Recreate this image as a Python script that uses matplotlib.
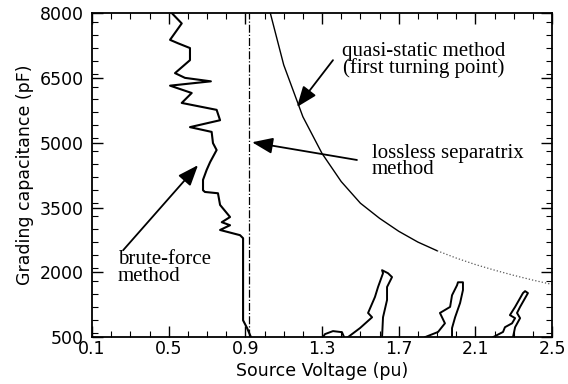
import numpy as np
import matplotlib
matplotlib.use('Agg')
import matplotlib.pyplot as plt
from matplotlib.ticker import MultipleLocator

# brute-force boundary (source voltage in pu, capacitance in pF)
bf_v = [0.516, 0.568, 0.507, 0.549, 0.611, 0.611, 0.533, 0.585, 0.72, 0.507,
        0.620, 0.568, 0.750, 0.768, 0.611, 0.724, 0.731, 0.750, 0.716, 0.698,
        0.679, 0.679, 0.689, 0.757, 0.768, 0.820, 0.777, 0.820, 0.768, 0.872,
        0.888, 0.888, 0.909, 0.929]
bf_c = [8000, 7760, 7380, 7300, 7190, 6910, 6610, 6500, 6420, 6320,
        6150, 5920, 5760, 5520, 5360, 5250, 4990, 4830, 4550, 4370,
        4140, 3900, 3860, 3830, 3560, 3280, 3160, 3090, 2980, 2860,
        2790, 890, 710, 500]

# lossless separatrix method
sep_v = 0.92

# quasi-static method (first turning point)
qs_v = [1.03, 1.1, 1.2, 1.3, 1.4, 1.5, 1.6, 1.7, 1.8, 1.9]
qs_c = [8000, 6800, 5600, 4750, 4100, 3600, 3250, 2950, 2700, 2500]
qs_tail_v = [1.9, 2.0, 2.1, 2.2, 2.3, 2.4, 2.5]
qs_tail_c = [2500, 2330, 2180, 2050, 1930, 1820, 1720]

# stability region outlines near the bottom
bump_v = [1.305, 1.315, 1.357, 1.404, 1.415]
bump_c = [500, 570, 640, 615, 500]
reg1_v = [1.435, 1.498, 1.561, 1.540, 1.576, 1.592, 1.618, 1.613, 1.644, 1.665,
          1.639, 1.639, 1.618, 1.613]
reg1_c = [500, 710, 960, 1060, 1430, 1660, 1980, 2050, 1980, 1890,
          1660, 1360, 960, 500]
reg2_v = [1.837, 1.905, 1.941, 1.915, 1.968, 1.978, 2.004, 2.009, 2.035, 2.035,
          2.020, 1.994, 1.978, 1.978]
reg2_c = [500, 620, 820, 1060, 1200, 1470, 1700, 1770, 1770, 1590,
          1290, 960, 710, 500]
reg3_v = [2.192, 2.244, 2.254, 2.291, 2.307, 2.280, 2.307, 2.348, 2.359, 2.374,
          2.333, 2.317, 2.333, 2.307, 2.296]
reg3_c = [500, 620, 730, 820, 940, 1010, 1200, 1520, 1565, 1520,
          1200, 1060, 940, 730, 500]

fig = plt.figure(figsize=(5.68, 3.84), dpi=100)
ax = fig.add_axes([0.162, 0.122, 0.810, 0.844])

ax.plot(bf_v, bf_c, 'k', lw=1.5)
ax.axvline(sep_v, color='k', ls='-.', lw=0.9)
ax.plot(qs_v, qs_c, 'k', lw=1.0)
ax.plot(qs_tail_v, qs_tail_c, color='0.35', ls=':', lw=0.9)
for v, c in [(bump_v, bump_c), (reg1_v, reg1_c), (reg2_v, reg2_c), (reg3_v, reg3_c)]:
    ax.plot(v, c, 'k', lw=1.4)

ax.set_xlim(0.1, 2.5)
ax.set_ylim(500, 8000)
ax.xaxis.set_minor_locator(MultipleLocator(0.1))
ax.yaxis.set_minor_locator(MultipleLocator(300))
ax.set_xticks([0.1, 0.5, 0.9, 1.3, 1.7, 2.1, 2.5])
ax.set_xticklabels(['0.1', '0.5', '0.9', '1.3', '1.7', '2.1', '2.5'])
ax.set_yticks([500, 2000, 3500, 5000, 6500, 8000])
ax.tick_params(which='both', direction='in', top=True, right=True, labelsize=12.5)
ax.tick_params(which='major', length=8, width=1)
ax.tick_params(which='minor', length=4, width=0.8)
ax.tick_params(axis='x', pad=2)
ax.tick_params(axis='y', pad=6)
for s in ax.spines.values():
    s.set_linewidth(1.3)

ax.set_xlabel('Source Voltage (pu)', fontsize=12.5, labelpad=3)
ax.set_ylabel('Grading capacitance (pF)', fontsize=12.5, labelpad=4)

serif = dict(family='Liberation Serif', fontsize=15)
arrow = dict(arrowstyle='-|>,head_length=0.9,head_width=0.35', color='k',
             lw=1.3, mutation_scale=14, shrinkA=0, shrinkB=0)

ax.annotate('', xy=(0.653, 4480), xytext=(0.262, 2510), arrowprops=arrow)
ax.text(0.236, 2100, 'brute-force\nmethod', ha='left', va='center',
        linespacing=0.8, **serif)

ax.annotate('', xy=(0.935, 5010), xytext=(1.482, 4600), arrowprops=arrow)
ax.text(1.56, 4570, 'lossless separatrix\nmethod', ha='left', va='center',
        linespacing=0.8, **serif)

ax.annotate('', xy=(1.169, 5825), xytext=(1.357, 6910), arrowprops=arrow)
ax.text(1.83, 6910, 'quasi-static method\n(first turning point)', ha='center',
        va='center', multialignment='center', linespacing=0.8, **serif)

fig.savefig('out.png', dpi=100)
